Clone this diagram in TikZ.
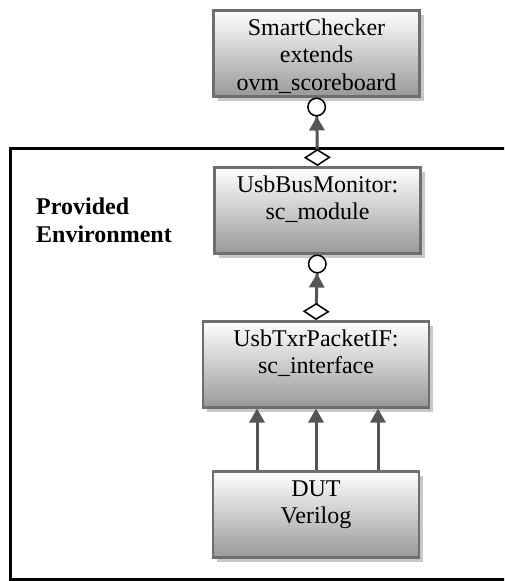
\documentclass[tikz,border=0pt]{standalone}
\usepackage{fontspec}
\setmainfont{Liberation Serif}
\usetikzlibrary{arrows.meta,shadows}
\definecolor{boxline}{RGB}{110,110,110}
\definecolor{linkgray}{RGB}{85,85,85}
\definecolor{shadegray}{RGB}{200,200,200}
\tikzset{
  umlbox/.style={draw=boxline, line width=2.5pt, top color=white, bottom color=black!40,
    drop shadow={shadow xshift=4pt, shadow yshift=-5pt, fill=shadegray, opacity=1},
    align=center, inner sep=0pt, anchor=north,
    font=\fontsize{24}{27.5}\selectfont},
  twoline/.style={text height=52.5pt, text depth=33.5pt},
  threeline/.style={text height=80pt, text depth=6pt},
  link/.style={draw=linkgray, line width=3pt},
  assoc/.style={link,
    {Diamond[fill=white,color=black,line width=1.5pt,length=17pt,width=27pt]}-{Triangle[color=linkgray,length=14pt,width=15pt] Circle[fill=white,color=black,line width=1.5pt,length=19pt]}},
  uses/.style={link, -{Triangle[length=14pt,width=15pt]}}
}
\begin{document}
\begin{tikzpicture}[x=1pt,y=-1pt]
    \useasboundingbox (0,0) rectangle (504,581);
    \clip (0,0) rectangle (504,581);
    % environment frame (open to the right)
    \draw[line width=3pt] (10,148) rectangle (530,579);
    \node[anchor=north west, align=left, inner sep=0pt, font=\fontsize{24}{28}\selectfont\bfseries] (env) at (36,198) {Provided\\Environment};
    \node[umlbox, threeline, minimum width=206pt] (checker) at (316.5,9) {SmartChecker\\extends\\ovm\_scoreboard};
    \node[umlbox, twoline, minimum width=206pt] (monitor) at (317.5,166) {UsbBusMonitor:\\sc\_module};
    \node[umlbox, twoline, minimum width=226pt] (txrif) at (316,320) {UsbTxrPacketIF:\\sc\_interface};
    \node[umlbox, twoline, minimum width=206pt] (dut) at (316,470) {DUT\\Verilog};
    \draw[assoc] (monitor.north) -- (checker.south);
    \draw[assoc] (txrif.north) -- (monitor.south);
    \foreach \dx in {-59,0,62} {
      \draw[uses] ([xshift=\dx pt]dut.north) -- ([xshift=\dx pt]txrif.south);
    }
\end{tikzpicture}
\end{document}
